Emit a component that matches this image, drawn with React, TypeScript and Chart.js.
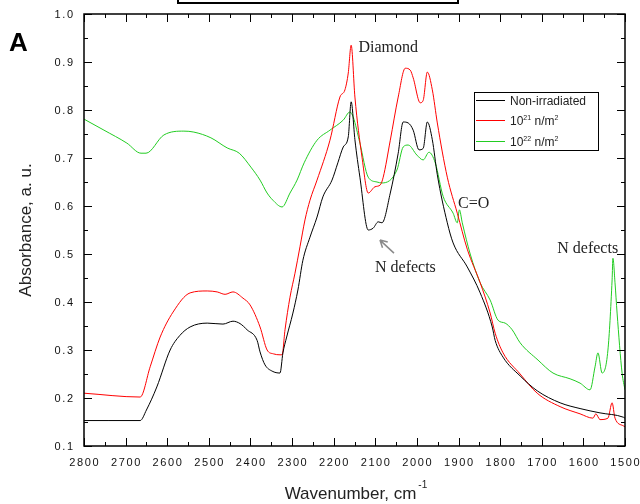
import React, { useEffect, useRef } from "react";
import { Chart, registerables } from "chart.js";

Chart.register(...registerables);

// ---- Data (wavenumber in cm-1, absorbance in a.u.) ----
const blackWn = [2800, 2740, 2665, 2650, 2625, 2593, 2570, 2545, 2504, 2466, 2442, 2425, 2408, 2384, 2377, 2365, 2348, 2329, 2322, 2313, 2298, 2286, 2274, 2257, 2240, 2226, 2204, 2190, 2177, 2165, 2158, 2149, 2137, 2117, 2105, 2093, 2084, 2064, 2045, 2033, 2021, 2009, 1995, 1985, 1975, 1963, 1951, 1927, 1913, 1879, 1848, 1819, 1812, 1793, 1752, 1711, 1656, 1608, 1560, 1504, 1500];
const blackAbs = [0.153, 0.153, 0.153, 0.175, 0.223, 0.3, 0.33, 0.348, 0.356, 0.354, 0.36, 0.355, 0.342, 0.32, 0.296, 0.269, 0.256, 0.252, 0.294, 0.327, 0.377, 0.425, 0.487, 0.535, 0.577, 0.619, 0.654, 0.69, 0.723, 0.744, 0.817, 0.738, 0.66, 0.55, 0.554, 0.567, 0.565, 0.627, 0.71, 0.775, 0.773, 0.758, 0.717, 0.72, 0.775, 0.738, 0.665, 0.565, 0.523, 0.473, 0.419, 0.348, 0.32, 0.285, 0.246, 0.215, 0.19, 0.178, 0.169, 0.16, 0.158];

const redWn = [2800, 2665, 2641, 2617, 2586, 2545, 2504, 2480, 2461, 2442, 2418, 2401, 2377, 2360, 2345, 2329, 2324, 2317, 2305, 2293, 2281, 2269, 2257, 2240, 2209, 2185, 2173, 2165, 2158, 2149, 2132, 2117, 2101, 2088, 2081, 2064, 2045, 2028, 2016, 2009, 1992, 1985, 1975, 1963, 1951, 1927, 1903, 1879, 1848, 1824, 1812, 1793, 1752, 1711, 1656, 1608, 1577, 1570, 1560, 1541, 1531, 1524, 1504, 1500];
const redAbs = [0.21, 0.202, 0.265, 0.327, 0.379, 0.419, 0.423, 0.421, 0.416, 0.421, 0.408, 0.394, 0.348, 0.3, 0.292, 0.29, 0.29, 0.342, 0.41, 0.46, 0.515, 0.571, 0.612, 0.654, 0.737, 0.827, 0.842, 0.877, 0.935, 0.827, 0.702, 0.627, 0.64, 0.644, 0.66, 0.737, 0.827, 0.887, 0.883, 0.867, 0.815, 0.82, 0.879, 0.842, 0.773, 0.66, 0.585, 0.51, 0.44, 0.377, 0.335, 0.294, 0.25, 0.21, 0.182, 0.167, 0.158, 0.167, 0.155, 0.158, 0.19, 0.158, 0.142, 0.14];

const greenWn = [2800, 2752, 2697, 2663, 2651, 2608, 2560, 2536, 2495, 2456, 2427, 2399, 2377, 2360, 2346, 2324, 2305, 2288, 2271, 2240, 2209, 2177, 2161, 2153, 2137, 2117, 2096, 2084, 2048, 2033, 2021, 2000, 1985, 1971, 1956, 1937, 1913, 1903, 1898, 1891, 1872, 1848, 1824, 1805, 1788, 1771, 1752, 1709, 1673, 1632, 1608, 1584, 1572, 1565, 1555, 1541, 1531, 1529, 1524, 1519, 1507, 1500];
const greenAbs = [0.781, 0.758, 0.731, 0.71, 0.71, 0.748, 0.756, 0.754, 0.742, 0.721, 0.71, 0.681, 0.654, 0.627, 0.612, 0.598, 0.627, 0.654, 0.69, 0.737, 0.758, 0.779, 0.796, 0.785, 0.731, 0.66, 0.65, 0.648, 0.675, 0.723, 0.727, 0.706, 0.696, 0.712, 0.69, 0.62, 0.585, 0.565, 0.592, 0.565, 0.5, 0.44, 0.404, 0.362, 0.356, 0.342, 0.315, 0.279, 0.252, 0.24, 0.231, 0.217, 0.265, 0.294, 0.252, 0.3, 0.446, 0.491, 0.44, 0.377, 0.252, 0.217];

const seriesNames = ["Non-irradiated", "10|21| n/m|2", "10|22| n/m|2"];
const seriesColors = ["#000000", "#ff0000", "#22cc22"];

const xMin = 1500;
const xMax = 2800;
const xStep = 100;
const yMin = 0.1;
const yMax = 1.0;
const yStep = 0.1;

const annotations = [
  { text: "Diamond", wn: 2155, abs: 0.935, dx: 6, dy: 7 },
  { text: "N defects", wn: 2096, abs: 0.554, dx: -2, dy: 44 },
  { text: "C=O", wn: 1899, abs: 0.59, dx: -1, dy: -3 },
  { text: "N defects", wn: 1545, abs: 0.491, dx: -49, dy: -5 },
];

const SANS = '"Liberation Sans", Arial, sans-serif';
const SERIF = '"Liberation Serif", "Times New Roman", serif';

function drawSupText(ctx: CanvasRenderingContext2D, spec: string, x: number, y: number, size: number) {
  const parts = spec.split("|");
  let cx = x;
  parts.forEach((p, i) => {
    if (!p) return;
    const sup = i % 2 === 1;
    ctx.font = `${sup ? Math.round(size * 0.62) : size}px ${SANS}`;
    ctx.fillText(p, cx, sup ? y - size * 0.42 : y);
    cx += ctx.measureText(p).width;
  });
}

function spacedWidth(ctx: CanvasRenderingContext2D, s: string, sp: number) {
  let w = 0;
  for (const ch of s) w += ctx.measureText(ch).width + sp;
  return w - sp;
}

function drawSpaced(ctx: CanvasRenderingContext2D, s: string, x: number, y: number, sp: number) {
  let cx = x;
  for (const ch of s) {
    ctx.fillText(ch, cx, y);
    cx += ctx.measureText(ch).width + sp;
  }
}

const overlayPlugin = {
  id: "overlay",
  afterDraw(chart: any) {
    const ctx: CanvasRenderingContext2D = chart.ctx;
    const { left, right, top, bottom } = chart.chartArea;
    const xs = chart.scales.x;
    const ys = chart.scales.y;
    ctx.save();
    ctx.textAlign = "left";
    ctx.textBaseline = "alphabetic";

    // cut-off box at the very top
    ctx.strokeStyle = "#000";
    ctx.lineWidth = 2;
    ctx.strokeRect(178, -10, 280, 13);

    // frame
    ctx.lineWidth = 1.5;
    ctx.strokeRect(left, top, right - left, bottom - top);

    // ticks (inward, mirrored)
    ctx.lineWidth = 1;
    ctx.beginPath();
    for (let v = xMin; v <= xMax; v += xStep / 2) {
      const px = Math.round(xs.getPixelForValue(v)) + 0.5;
      const major = (v - xMin) % xStep === 0;
      const L = major ? 8 : 4;
      ctx.moveTo(px, bottom);
      ctx.lineTo(px, bottom - L);
      ctx.moveTo(px, top);
      ctx.lineTo(px, top + L);
    }
    const nY = Math.round((yMax - yMin) / (yStep / 2));
    for (let i = 0; i <= nY; i++) {
      const v = yMin + (i * yStep) / 2;
      const py = Math.round(ys.getPixelForValue(v)) + 0.5;
      const L = i % 2 === 0 ? 8 : 4;
      ctx.moveTo(left, py);
      ctx.lineTo(left + L, py);
      ctx.moveTo(right, py);
      ctx.lineTo(right - L, py);
    }
    ctx.stroke();

    // tick labels from the scales' own ticks
    ctx.fillStyle = "#111";
    ctx.font = `11px ${SANS}`;
    const sp = 1.6;
    xs.ticks.forEach((t: any) => {
      const s = String(t.value);
      const px = xs.getPixelForValue(t.value);
      const w = spacedWidth(ctx, s, sp);
      drawSpaced(ctx, s, px - w / 2, bottom + 20, sp);
    });
    ys.ticks.forEach((t: any) => {
      const s = Number(t.value).toFixed(1);
      const py = ys.getPixelForValue(t.value);
      const w = spacedWidth(ctx, s, sp);
      drawSpaced(ctx, s, left - 11 - w, py + 4, sp);
    });

    // axis titles
    ctx.fillStyle = "#222";
    ctx.font = `17px ${SANS}`;
    const xt = "Wavenumber, cm";
    const xtW = ctx.measureText(xt).width;
    const xCenter = (left + right) / 2;
    ctx.fillText(xt, xCenter - xtW / 2 - 4, 499);
    ctx.font = `10px ${SANS}`;
    ctx.fillText("-1", xCenter + xtW / 2 - 2, 488);

    ctx.save();
    ctx.translate(31, (top + bottom) / 2);
    ctx.rotate(-Math.PI / 2);
    ctx.textAlign = "center";
    ctx.font = `17px ${SANS}`;
    ctx.fillText("Absorbance, a. u.", 0, 0);
    ctx.restore();

    // panel letter
    ctx.fillStyle = "#000";
    ctx.font = `bold 26px ${SANS}`;
    ctx.fillText("A", 9, 51);

    // annotations
    ctx.fillStyle = "#222";
    ctx.font = `16px ${SERIF}`;
    annotations.forEach((a) => {
      const px = xs.getPixelForValue(a.wn) + a.dx;
      const py = ys.getPixelForValue(a.abs) + a.dy;
      ctx.fillText(a.text, px, py);
    });

    // arrow to the N defects dip
    const tipX = xs.getPixelForValue(2096) + 3;
    const tipY = ys.getPixelForValue(0.554) + 12;
    const tailX = tipX + 14;
    const tailY = tipY + 13;
    ctx.strokeStyle = "#8a8a8a";
    ctx.lineWidth = 1.5;
    ctx.beginPath();
    ctx.moveTo(tailX, tailY);
    ctx.lineTo(tipX, tipY);
    const ang = Math.atan2(tipY - tailY, tipX - tailX);
    const hl = 8;
    ctx.moveTo(tipX, tipY);
    ctx.lineTo(tipX - hl * Math.cos(ang - 0.5), tipY - hl * Math.sin(ang - 0.5));
    ctx.moveTo(tipX, tipY);
    ctx.lineTo(tipX - hl * Math.cos(ang + 0.5), tipY - hl * Math.sin(ang + 0.5));
    ctx.stroke();

    // legend
    const lx = 474, ly = 92, lw = 124, lh = 58;
    ctx.fillStyle = "#fff";
    ctx.fillRect(lx, ly, lw, lh);
    ctx.strokeStyle = "#000";
    ctx.lineWidth = 1;
    ctx.strokeRect(lx + 0.5, ly + 0.5, lw, lh);
    const rows = [100, 120, 141];
    seriesNames.forEach((name, i) => {
      const ry = rows[i];
      ctx.strokeStyle = seriesColors[i];
      ctx.lineWidth = 1;
      ctx.beginPath();
      ctx.moveTo(lx + 2, ry + 0.5);
      ctx.lineTo(lx + 31, ry + 0.5);
      ctx.stroke();
      ctx.fillStyle = "#222";
      drawSupText(ctx, name, lx + 36, ry + 5, 12);
    });

    ctx.restore();
  },
};

export default function App() {
  const canvasRef = useRef<HTMLCanvasElement | null>(null);

  useEffect(() => {
    if (!canvasRef.current) return;
    const mk = (wn: number[], ab: number[]) => wn.map((x, i) => ({ x, y: ab[i] }));
    const common = { borderWidth: 1, pointRadius: 0, cubicInterpolationMode: "monotone" as const };
    const chart = new Chart(canvasRef.current, {
      type: "line",
      data: {
        datasets: [
          { label: "Non-irradiated", data: mk(blackWn, blackAbs), borderColor: seriesColors[0], ...common },
          { label: "1e21", data: mk(redWn, redAbs), borderColor: seriesColors[1], ...common },
          { label: "1e22", data: mk(greenWn, greenAbs), borderColor: seriesColors[2], ...common },
        ],
      },
      options: {
        animation: false,
        responsive: false,
        devicePixelRatio: 1,
        layout: { padding: { left: 0, right: 15, top: 14, bottom: 0 } },
        plugins: { legend: { display: false }, tooltip: { enabled: false }, title: { display: false } },
        scales: {
          x: {
            type: "linear",
            reverse: true,
            min: xMin,
            max: xMax,
            grid: { display: false, drawTicks: false },
            border: { display: false },
            ticks: { stepSize: xStep, autoSkip: false, display: false },
            afterFit: (s: any) => { s.height = 58; },
          },
          y: {
            type: "linear",
            min: yMin,
            max: yMax,
            grid: { display: false, drawTicks: false },
            border: { display: false },
            ticks: { stepSize: yStep, display: false },
            afterFit: (s: any) => { s.width = 84; },
          },
        },
      },
      plugins: [overlayPlugin],
    });
    return () => chart.destroy();
  }, []);

  return (
    <div style={{ position: "absolute", left: 0, top: 0, width: 640, height: 504, background: "#fff" }}>
      <canvas ref={canvasRef} width={640} height={504} />
    </div>
  );
}
